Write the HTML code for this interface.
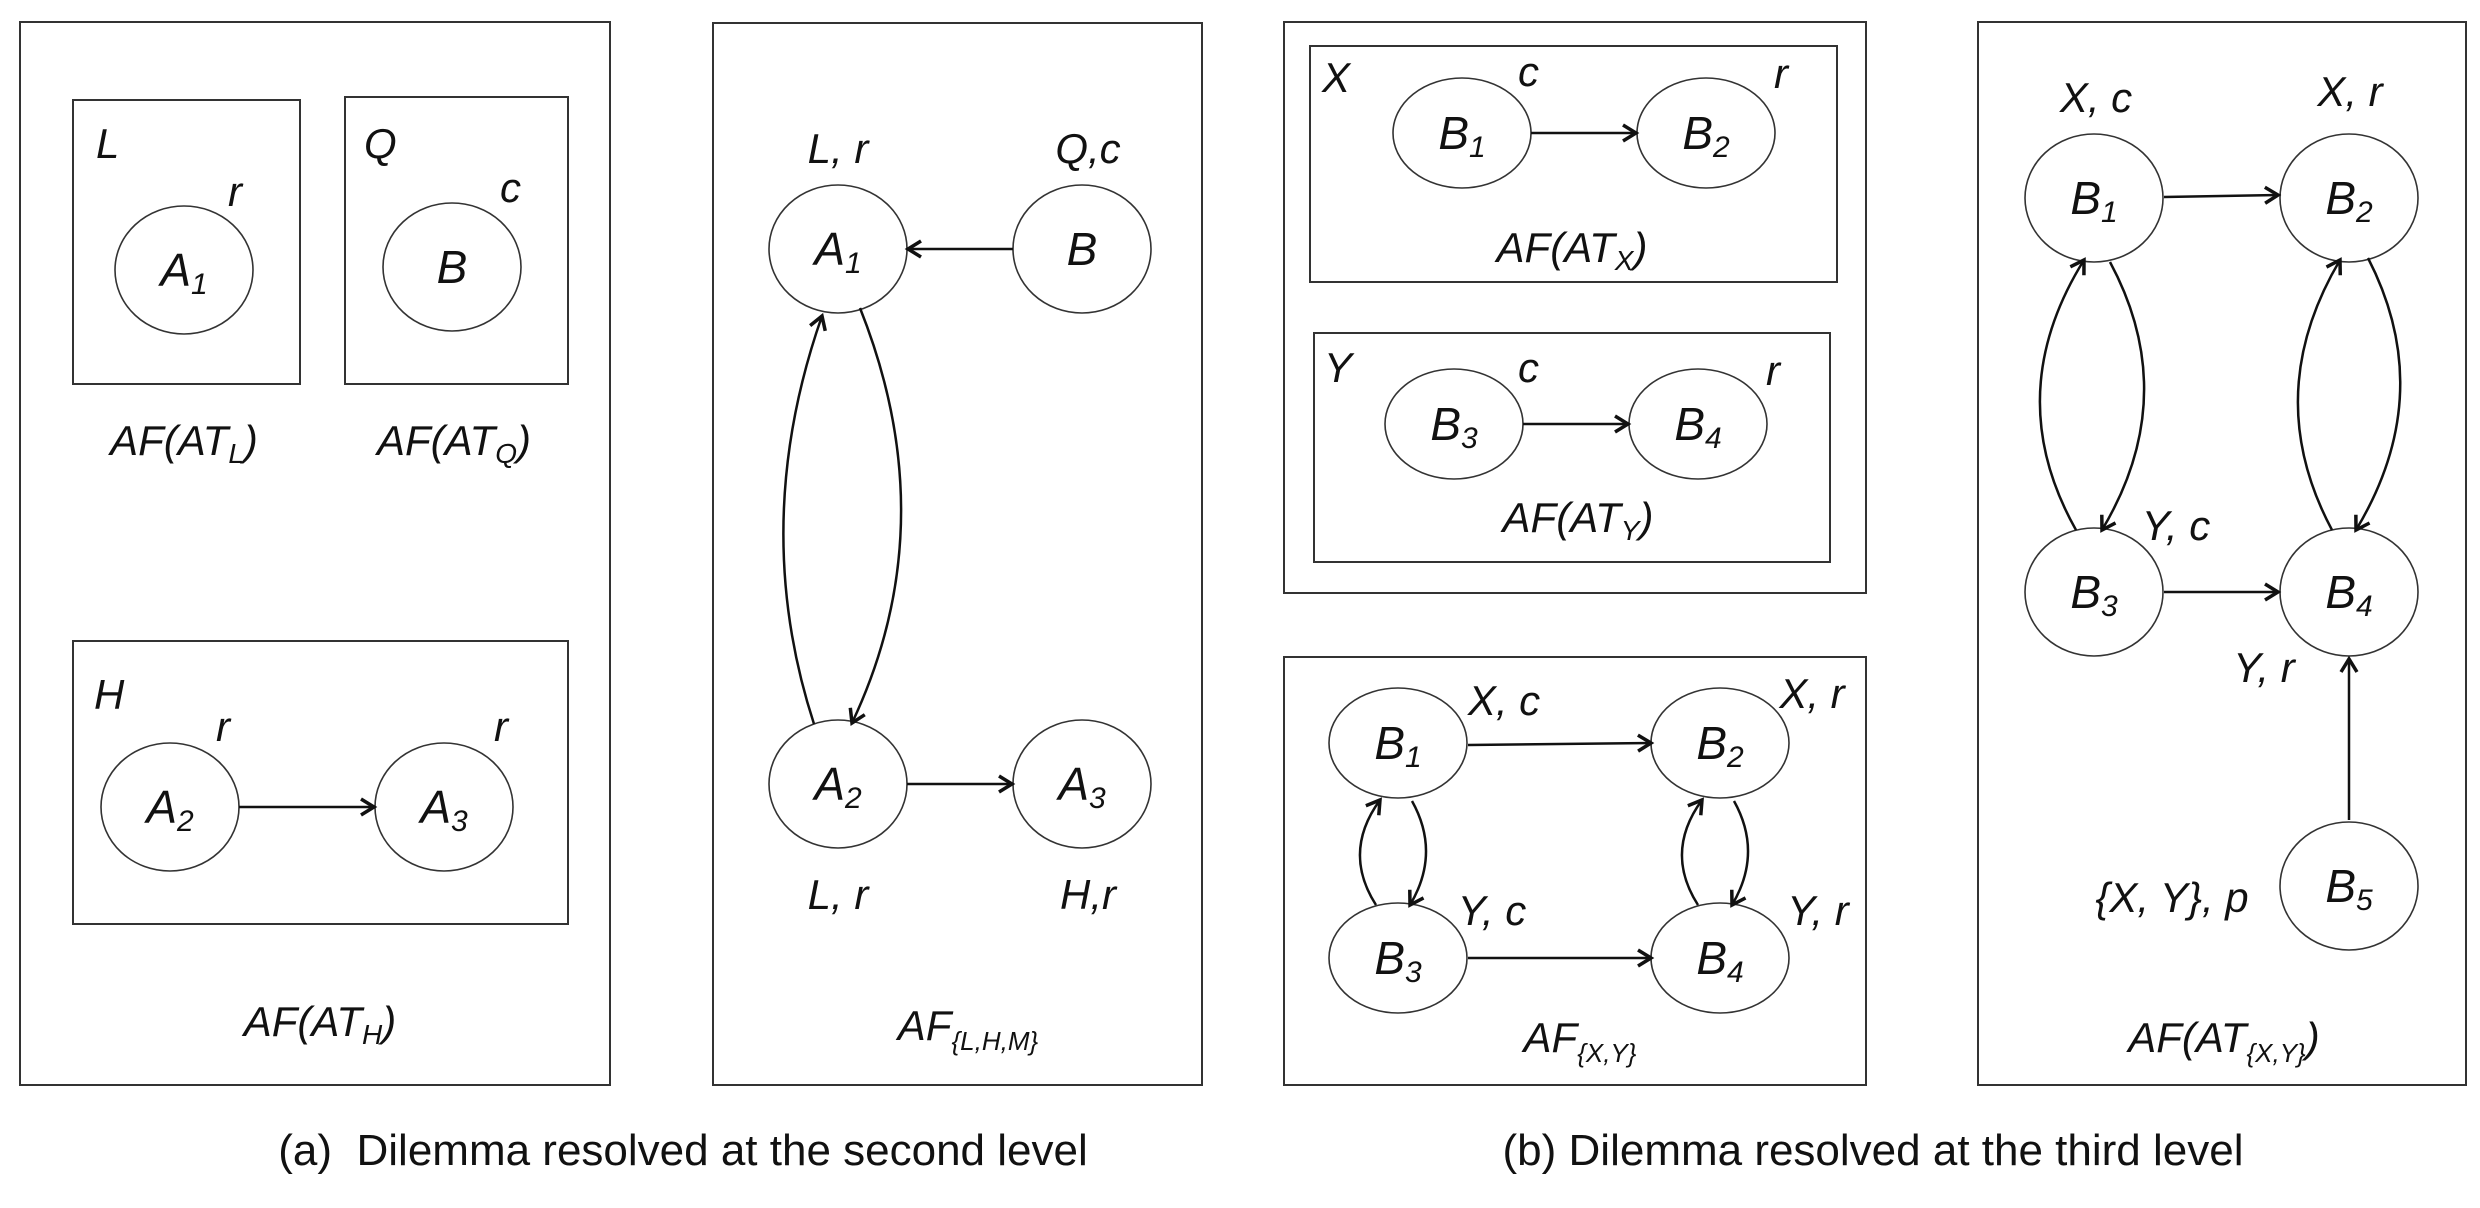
<!DOCTYPE html>
<html><head><meta charset="utf-8"><style>
html,body{margin:0;padding:0;background:#fff;}
svg{display:block;}
text{font-family:"Liberation Sans",sans-serif;font-style:italic;fill:#111;}
.cap{font-style:normal;font-size:44px;}
.n{font-size:46px;}
.l{font-size:42px;}
</style></head><body>
<svg width="2480" height="1208" viewBox="0 0 2480 1208" xmlns="http://www.w3.org/2000/svg">
<defs>
<marker id="ar" markerWidth="22" markerHeight="22" refX="17" refY="11" orient="auto" markerUnits="userSpaceOnUse">
<path d="M4,3 L17,11 L4,19" fill="none" stroke="#111" stroke-width="3.5"/>
</marker>
</defs>
<g fill="none" stroke="#333" stroke-width="2">
<rect x="20" y="22" width="590" height="1063"/>
<rect x="73" y="100" width="227" height="284"/>
<rect x="345" y="97" width="223" height="287"/>
<rect x="73" y="641" width="495" height="283"/>
<rect x="713" y="23" width="489" height="1062"/>
<rect x="1284" y="22" width="582" height="571"/>
<rect x="1310" y="46" width="527" height="236"/>
<rect x="1314" y="333" width="516" height="229"/>
<rect x="1284" y="657" width="582" height="428"/>
<rect x="1978" y="22" width="488" height="1063"/>
</g>
<g fill="#fff" stroke="#333" stroke-width="1.6">
<ellipse cx="184" cy="270" rx="69" ry="64"/>
<ellipse cx="452" cy="267" rx="69" ry="64"/>
<ellipse cx="170" cy="807" rx="69" ry="64"/>
<ellipse cx="444" cy="807" rx="69" ry="64"/>
<ellipse cx="838" cy="249" rx="69" ry="64"/>
<ellipse cx="1082" cy="249" rx="69" ry="64"/>
<ellipse cx="838" cy="784" rx="69" ry="64"/>
<ellipse cx="1082" cy="784" rx="69" ry="64"/>
<ellipse cx="1462" cy="133" rx="69" ry="55"/>
<ellipse cx="1706" cy="133" rx="69" ry="55"/>
<ellipse cx="1454" cy="424" rx="69" ry="55"/>
<ellipse cx="1698" cy="424" rx="69" ry="55"/>
<ellipse cx="1398" cy="743" rx="69" ry="55"/>
<ellipse cx="1720" cy="743" rx="69" ry="55"/>
<ellipse cx="1398" cy="958" rx="69" ry="55"/>
<ellipse cx="1720" cy="958" rx="69" ry="55"/>
<ellipse cx="2094" cy="198" rx="69" ry="64"/>
<ellipse cx="2349" cy="198" rx="69" ry="64"/>
<ellipse cx="2094" cy="592" rx="69" ry="64"/>
<ellipse cx="2349" cy="592" rx="69" ry="64"/>
<ellipse cx="2349" cy="886" rx="69" ry="64"/>
</g>
<g fill="none" stroke="#111" stroke-width="2.5" marker-end="url(#ar)">
<line x1="239" y1="807" x2="374" y2="807"/>
<line x1="1013" y1="249" x2="908" y2="249"/>
<line x1="907" y1="784" x2="1012" y2="784"/>
<path d="M814,724 Q749,524 822,316"/>
<path d="M860,308 Q946,524 852,723"/>
<line x1="1531" y1="133" x2="1636" y2="133"/>
<line x1="1523" y1="424" x2="1628" y2="424"/>
<line x1="1468" y1="745" x2="1651" y2="743"/>
<line x1="1468" y1="958" x2="1651" y2="958"/>
<path d="M1376,905 Q1342,852 1380,800"/>
<path d="M1412,801 Q1441,853 1410,905"/>
<path d="M1698,905 Q1664,852 1702,800"/>
<path d="M1734,801 Q1763,853 1732,905"/>
<line x1="2164" y1="197" x2="2278" y2="195"/>
<line x1="2164" y1="592" x2="2278" y2="592"/>
<line x1="2349" y1="820" x2="2349" y2="659"/>
<path d="M2076,530 Q2000,395 2084,260"/>
<path d="M2110,262 Q2182,396 2102,530"/>
<path d="M2332,530 Q2260,395 2340,260"/>
<path d="M2368,258 Q2438,394 2356,530"/>
</g>
<g class="l">
<text x="96" y="158">L</text>
<text x="228" y="206">r</text>
<text x="364" y="158">Q</text>
<text x="500" y="202">c</text>
<text x="184" y="455" text-anchor="middle">AF(AT<tspan font-size="28" dy="8">L</tspan><tspan dy="-8">)</tspan></text>
<text x="454" y="455" text-anchor="middle">AF(AT<tspan font-size="28" dy="8">Q</tspan><tspan dy="-8">)</tspan></text>
<text x="94" y="709">H</text>
<text x="216" y="741">r</text>
<text x="494" y="741">r</text>
<text x="320" y="1036" text-anchor="middle">AF(AT<tspan font-size="28" dy="8">H</tspan><tspan dy="-8">)</tspan></text>
<text x="838" y="163" text-anchor="middle">L, r</text>
<text x="1088" y="163" text-anchor="middle">Q,c</text>
<text x="838" y="909" text-anchor="middle">L, r</text>
<text x="1088" y="909" text-anchor="middle">H,r</text>
<text x="968" y="1040" text-anchor="middle">AF<tspan font-size="26" dy="10">{L,H,M}</tspan></text>
<text x="1322" y="92">X</text>
<text x="1518" y="86">c</text>
<text x="1774" y="88">r</text>
<text x="1572" y="262" text-anchor="middle">AF(AT<tspan font-size="28" dy="8">X</tspan><tspan dy="-8">)</tspan></text>
<text x="1324" y="382">Y</text>
<text x="1518" y="382">c</text>
<text x="1766" y="385">r</text>
<text x="1578" y="532" text-anchor="middle">AF(AT<tspan font-size="28" dy="8">Y</tspan><tspan dy="-8">)</tspan></text>
<text x="1504" y="715" text-anchor="middle">X, c</text>
<text x="1812" y="708" text-anchor="middle">X, r</text>
<text x="1492" y="925" text-anchor="middle">Y, c</text>
<text x="1818" y="925" text-anchor="middle">Y, r</text>
<text x="1580" y="1052" text-anchor="middle">AF<tspan font-size="26" dy="10">{X,Y}</tspan></text>
<text x="2096" y="112" text-anchor="middle">X, c</text>
<text x="2350" y="106" text-anchor="middle">X, r</text>
<text x="2176" y="540" text-anchor="middle">Y, c</text>
<text x="2264" y="682" text-anchor="middle">Y, r</text>
<text x="2172" y="912" text-anchor="middle">{X, Y}, p</text>
<text x="2224" y="1052" text-anchor="middle">AF(AT<tspan font-size="26" dy="10">{X,Y}</tspan><tspan dy="-10">)</tspan></text>
</g>
<g class="n" text-anchor="middle">
<text x="184" y="286">A<tspan font-size="30" dy="8">1</tspan></text>
<text x="452" y="283">B</text>
<text x="170" y="823">A<tspan font-size="30" dy="8">2</tspan></text>
<text x="444" y="823">A<tspan font-size="30" dy="8">3</tspan></text>
<text x="838" y="265">A<tspan font-size="30" dy="8">1</tspan></text>
<text x="1082" y="265">B</text>
<text x="838" y="800">A<tspan font-size="30" dy="8">2</tspan></text>
<text x="1082" y="800">A<tspan font-size="30" dy="8">3</tspan></text>
<text x="1462" y="149">B<tspan font-size="30" dy="8">1</tspan></text>
<text x="1706" y="149">B<tspan font-size="30" dy="8">2</tspan></text>
<text x="1454" y="440">B<tspan font-size="30" dy="8">3</tspan></text>
<text x="1698" y="440">B<tspan font-size="30" dy="8">4</tspan></text>
<text x="1398" y="759">B<tspan font-size="30" dy="8">1</tspan></text>
<text x="1720" y="759">B<tspan font-size="30" dy="8">2</tspan></text>
<text x="1398" y="974">B<tspan font-size="30" dy="8">3</tspan></text>
<text x="1720" y="974">B<tspan font-size="30" dy="8">4</tspan></text>
<text x="2094" y="214">B<tspan font-size="30" dy="8">1</tspan></text>
<text x="2349" y="214">B<tspan font-size="30" dy="8">2</tspan></text>
<text x="2094" y="608">B<tspan font-size="30" dy="8">3</tspan></text>
<text x="2349" y="608">B<tspan font-size="30" dy="8">4</tspan></text>
<text x="2349" y="902">B<tspan font-size="30" dy="8">5</tspan></text>
</g>
<text class="cap" x="683" y="1165" text-anchor="middle" xml:space="preserve">(a)  Dilemma resolved at the second level</text>
<text class="cap" x="1873" y="1165" text-anchor="middle" font-size="48">(b) Dilemma resolved at the third level</text>
</svg>
</body></html>
